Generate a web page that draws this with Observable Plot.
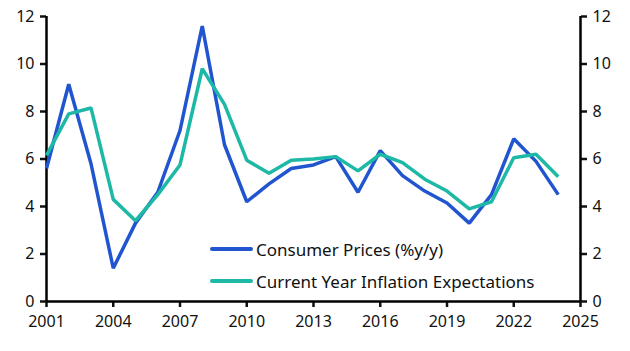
<!DOCTYPE html>
<html>
<head>
<meta charset="utf-8">
<script src="https://cdn.jsdelivr.net/npm/d3@7"></script>
<script src="https://cdn.jsdelivr.net/npm/@observablehq/plot@0.6"></script>
<style>
  html, body { margin: 0; padding: 0; background: #fff; }
  #wrap { position: relative; width: 630px; height: 351px; font-family: "Noto Sans", "Open Sans", sans-serif; }
  #legend { position: absolute; left: 210px; top: 233px; font-size: 17px; color: #111; }
  .item { display: flex; align-items: center; height: 32px; }
  .sw { width: 43px; height: 4px; border-radius: 2px; margin-right: 3px; }
</style>
</head>
<body>
<div id="wrap"></div>
<script>
const years = d3.range(2001, 2025);
const consumerPrices = [5.6, 9.15, 5.8, 1.4, 3.3, 4.6, 7.2, 11.6, 6.6, 4.2, 4.95, 5.6, 5.75, 6.1, 4.6, 6.35, 5.3, 4.65, 4.15, 3.3, 4.5, 6.85, 5.9, 4.5];
const expectations = [6.15, 7.9, 8.15, 4.3, 3.4, 4.5, 5.75, 9.8, 8.3, 5.95, 5.4, 5.95, 6.0, 6.1, 5.5, 6.2, 5.85, 5.15, 4.65, 3.9, 4.2, 6.05, 6.2, 5.25];
const seriesNames = ["Consumer Prices (%y/y)", "Current Year Inflation Expectations"];
const seriesColors = ["#2155cf", "#1db8a6"];
const xTicks = [2001, 2004, 2007, 2010, 2013, 2016, 2019, 2022, 2025];
const yTicks = [0, 2, 4, 6, 8, 10, 12];

const data = [
  ...years.map((y, i) => ({year: y, value: consumerPrices[i], series: seriesNames[0]})),
  ...years.map((y, i) => ({year: y, value: expectations[i], series: seriesNames[1]}))
];

const chart = Plot.plot({
  width: 630,
  height: 351,
  marginLeft: 46,
  marginRight: 50,
  marginTop: 16,
  marginBottom: 50,
  style: {fontFamily: "'Noto Sans', 'Open Sans', sans-serif", fontSize: "16px", color: "#111", background: "#fff"},
  x: {domain: [2001, 2025]},
  y: {domain: [0, 12]},
  color: {domain: seriesNames, range: seriesColors},
  marks: [
    Plot.axisX({ticks: xTicks, tickFormat: d => String(d), tickSize: 6, tickPadding: 8, strokeWidth: 2.5, label: null, fontSize: 16}),
    Plot.axisY({anchor: "left", ticks: yTicks, tickSize: 6, tickPadding: 6, strokeWidth: 2.5, label: null, fontSize: 16}),
    Plot.axisY({anchor: "right", ticks: yTicks, tickSize: 6, tickPadding: 6, strokeWidth: 2.5, label: null, fontSize: 16}),
    Plot.ruleX([2001, 2025], {stroke: "#000", strokeWidth: 2.5}),
    Plot.ruleY([0], {stroke: "#000", strokeWidth: 2.5}),
    Plot.line(data, {x: "year", y: "value", z: "series", stroke: "series", strokeWidth: 3.5, strokeLinejoin: "miter", strokeLinecap: "butt"})
  ]
});
const wrap = document.getElementById("wrap");
wrap.appendChild(chart);

const legend = document.createElement("div");
legend.id = "legend";
seriesNames.forEach((n, i) => {
  const it = document.createElement("div");
  it.className = "item";
  const sw = document.createElement("div");
  sw.className = "sw";
  sw.style.background = seriesColors[i];
  const t = document.createElement("span");
  t.textContent = n;
  it.appendChild(sw); it.appendChild(t);
  legend.appendChild(it);
});
wrap.appendChild(legend);
</script>
</body>
</html>
